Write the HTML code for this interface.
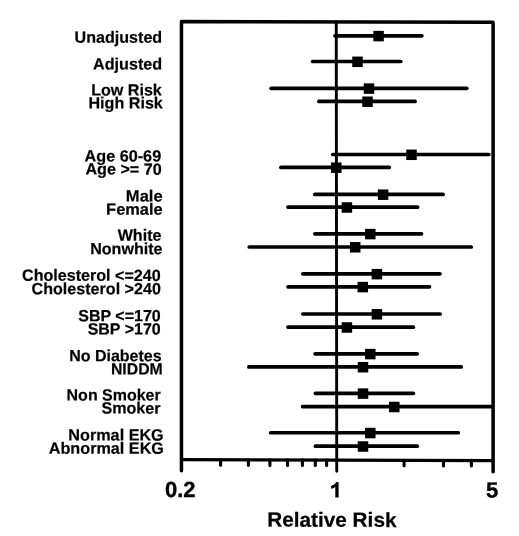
<!DOCTYPE html>
<html><head><meta charset="utf-8"><style>
html,body{margin:0;padding:0;background:#fff;overflow:hidden;}
svg{display:block;filter:grayscale(1);}
text{font-family:"Liberation Sans",sans-serif;font-weight:bold;fill:#000;}
</style></head><body>
<svg width="519" height="536" viewBox="0 0 519 536">
<g transform="translate(0 -0.941) skewY(0.16)">
<g stroke="#000" fill="none" stroke-linecap="round" stroke-linejoin="round">
<path d="M181.45 471.2 L181.45 21.9 L493.1 21.9 L493.1 471.4" stroke-width="3.5"/>
<path d="M181.45 460.1 L493.1 460.1" stroke-width="3.3"/>
<path d="M336.25 21.9 L336.75 471.3" stroke-width="2.9"/>
<path d="M220.6 460 L220.6 465.6" stroke-width="3.1"/>
<path d="M248.4 460 L248.4 465.6" stroke-width="3.1"/>
<path d="M269.9 460 L269.9 465.6" stroke-width="3.1"/>
<path d="M287.5 460 L287.5 465.6" stroke-width="3.1"/>
<path d="M302.4 460 L302.4 465.6" stroke-width="3.1"/>
<path d="M315.3 460 L315.3 465.6" stroke-width="3.1"/>
<path d="M326.6 460 L326.6 465.6" stroke-width="3.1"/>
<path d="M404.1 460 L404.1 465.6" stroke-width="3.1"/>
<path d="M443.5 460 L443.5 465.6" stroke-width="3.1"/>
<path d="M471.4 460 L471.4 465.6" stroke-width="3.1"/>
</g>
<g fill="#000">
<path d="M335.3 497.5 L338.6 497.5 L338.6 482.7 Q338.6 482.1 338.0 482.1 L336.3 482.1 C335.5 483.6 333.9 485.2 331.1 485.9 L331.1 488.7 C332.8 488.4 334.3 487.7 335.3 486.9 Z"/>
</g>
<g font-size="22" stroke="#000" stroke-width="0.35">
<text x="164.9" y="497.5">0.2</text>
<text x="486.1" y="497.1">5</text>
</g>
<text x="267.2" y="526.75" font-size="20.5" stroke="#000" stroke-width="0.25" textLength="129.3" lengthAdjust="spacingAndGlyphs">Relative Risk</text>
</g>
<g stroke="#000" fill="none" stroke-linecap="round">
<path d="M334.95 35.80 L421.85 35.80" stroke-width="3.7"/>
<path d="M312.65 61.50 L400.75 61.50" stroke-width="3.7"/>
<path d="M271.15 88.30 L466.75 88.30" stroke-width="3.7"/>
<path d="M318.95 101.45 L415.05 101.45" stroke-width="3.7"/>
<path d="M332.75 154.50 L488.75 154.50" stroke-width="3.7"/>
<path d="M280.95 167.40 L389.25 167.40" stroke-width="3.7"/>
<path d="M314.85 194.40 L443.05 194.40" stroke-width="3.7"/>
<path d="M288.05 207.20 L417.55 207.20" stroke-width="3.7"/>
<path d="M314.85 233.80 L421.55 233.80" stroke-width="3.7"/>
<path d="M249.25 247.00 L471.25 247.00" stroke-width="3.7"/>
<path d="M302.85 273.85 L439.95 273.85" stroke-width="3.7"/>
<path d="M288.05 286.80 L429.45 286.80" stroke-width="3.7"/>
<path d="M302.85 314.00 L440.15 314.00" stroke-width="3.7"/>
<path d="M288.05 327.20 L413.35 327.20" stroke-width="3.7"/>
<path d="M315.15 353.80 L417.25 353.80" stroke-width="3.7"/>
<path d="M248.85 366.90 L461.25 366.90" stroke-width="3.7"/>
<path d="M315.45 393.30 L413.35 393.30" stroke-width="3.7"/>
<path d="M302.65 406.70 L491.15 406.70" stroke-width="3.7"/>
<path d="M270.65 432.75 L458.35 432.75" stroke-width="3.7"/>
<path d="M315.45 446.20 L417.25 446.20" stroke-width="3.7"/>
</g>
<g fill="#000">
<rect x="373.35" y="30.85" width="10.5" height="10.5"/>
<rect x="352.25" y="56.55" width="10.5" height="10.5"/>
<rect x="363.75" y="83.35" width="10.5" height="10.5"/>
<rect x="362.25" y="96.50" width="10.5" height="10.5"/>
<rect x="406.25" y="149.55" width="10.5" height="10.5"/>
<rect x="331.05" y="162.45" width="10.5" height="10.5"/>
<rect x="377.85" y="189.45" width="10.5" height="10.5"/>
<rect x="341.65" y="202.25" width="10.5" height="10.5"/>
<rect x="365.05" y="228.85" width="10.5" height="10.5"/>
<rect x="349.95" y="242.05" width="10.5" height="10.5"/>
<rect x="371.65" y="268.90" width="10.5" height="10.5"/>
<rect x="357.55" y="281.85" width="10.5" height="10.5"/>
<rect x="371.65" y="309.05" width="10.5" height="10.5"/>
<rect x="341.65" y="322.25" width="10.5" height="10.5"/>
<rect x="365.05" y="348.85" width="10.5" height="10.5"/>
<rect x="357.75" y="361.95" width="10.5" height="10.5"/>
<rect x="357.75" y="388.35" width="10.5" height="10.5"/>
<rect x="389.05" y="401.75" width="10.5" height="10.5"/>
<rect x="365.05" y="427.80" width="10.5" height="10.5"/>
<rect x="357.75" y="441.25" width="10.5" height="10.5"/>
</g>
<g font-size="16.3" stroke="#000" stroke-width="0.2">
<text x="74.60" y="42.8" textLength="87.60" lengthAdjust="spacingAndGlyphs" transform="rotate(0.05 74.6 42.8)">Unadjusted</text>
<text x="92.97" y="69.5" textLength="69.26" lengthAdjust="spacingAndGlyphs" transform="rotate(0.05 93.0 69.5)">Adjusted</text>
<text x="91.13" y="95.4" textLength="70.71" lengthAdjust="spacingAndGlyphs" transform="rotate(0.05 91.1 95.4)">Low Risk</text>
<text x="88.48" y="108.5" textLength="74.36" lengthAdjust="spacingAndGlyphs" transform="rotate(0.05 88.5 108.5)">High Risk</text>
<text x="84.54" y="161.4" textLength="76.64" lengthAdjust="spacingAndGlyphs" transform="rotate(0.05 84.5 161.4)">Age 60-69</text>
<text x="85.43" y="174.6" textLength="76.30" lengthAdjust="spacingAndGlyphs" transform="rotate(0.05 85.4 174.6)">Age &gt;= 70</text>
<text x="125.89" y="201.6" textLength="36.81" lengthAdjust="spacingAndGlyphs" transform="rotate(0.05 125.9 201.6)">Male</text>
<text x="106.13" y="214.7" textLength="56.48" lengthAdjust="spacingAndGlyphs" transform="rotate(0.05 106.1 214.7)">Female</text>
<text x="117.69" y="240.8" textLength="43.73" lengthAdjust="spacingAndGlyphs" transform="rotate(0.05 117.7 240.8)">White</text>
<text x="90.18" y="254.3" textLength="72.38" lengthAdjust="spacingAndGlyphs" transform="rotate(0.05 90.2 254.3)">Nonwhite</text>
<text x="22.02" y="280.8" textLength="138.71" lengthAdjust="spacingAndGlyphs" transform="rotate(0.05 22.0 280.8)">Cholesterol &lt;=240</text>
<text x="31.58" y="294.2" textLength="129.26" lengthAdjust="spacingAndGlyphs" transform="rotate(0.05 31.6 294.2)">Cholesterol &gt;240</text>
<text x="78.23" y="321.2" textLength="82.49" lengthAdjust="spacingAndGlyphs" transform="rotate(0.05 78.2 321.2)">SBP &lt;=170</text>
<text x="87.63" y="334.5" textLength="73.15" lengthAdjust="spacingAndGlyphs" transform="rotate(0.05 87.6 334.5)">SBP &gt;170</text>
<text x="69.17" y="361.2" textLength="92.49" lengthAdjust="spacingAndGlyphs" transform="rotate(0.05 69.2 361.2)">No Diabetes</text>
<text x="110.96" y="374.5" textLength="51.77" lengthAdjust="spacingAndGlyphs" transform="rotate(0.05 111.0 374.5)">NIDDM</text>
<text x="66.59" y="400.5" textLength="94.15" lengthAdjust="spacingAndGlyphs" transform="rotate(0.05 66.6 400.5)">Non Smoker</text>
<text x="101.41" y="413.6" textLength="59.16" lengthAdjust="spacingAndGlyphs" transform="rotate(0.05 101.4 413.6)">Smoker</text>
<text x="68.34" y="440.4" textLength="95.40" lengthAdjust="spacingAndGlyphs" transform="rotate(0.05 68.3 440.4)">Normal EKG</text>
<text x="48.75" y="453.7" textLength="115.23" lengthAdjust="spacingAndGlyphs" transform="rotate(0.05 48.8 453.7)">Abnormal EKG</text>
</g>
</svg></body></html>
